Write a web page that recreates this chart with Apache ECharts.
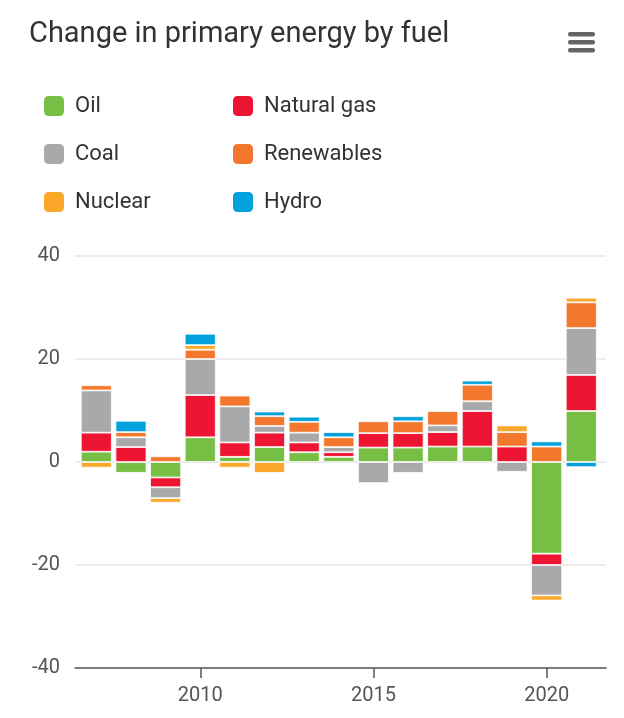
<!DOCTYPE html>
<html>
<head>
<meta charset="utf-8">
<script src="https://cdn.jsdelivr.net/npm/echarts@6/dist/echarts.min.js"></script>
<style>html,body{margin:0;padding:0;background:#fff;}#c{width:624px;height:718px;}</style>
</head>
<body>
<div id="c"></div>
<script>
const years = ['2007','2008','2009','2010','2011','2012','2013','2014','2015','2016','2017','2018','2019','2020','2021'];
const oil        = [2.0,-2.1,-3.0,4.8,1.0,2.9,1.9,1.0,2.8,2.8,3.0,3.0,0,-17.8,9.9];
const naturalGas = [3.7,2.9,-1.9,8.2,2.8,2.8,1.9,0.9,2.8,2.8,2.8,6.9,3.0,-2.2,7.0];
const coal       = [8.2,1.9,-2.1,7.0,7.0,1.3,1.9,1.0,-4.1,-2.1,1.3,1.9,-1.9,-5.9,9.1];
const renewables = [1.0,1.0,1.1,1.8,2.1,1.9,2.1,1.9,2.3,2.3,2.8,3.2,2.8,3.0,5.0];
const nuclear    = [-1.1,0,-0.9,0.9,-1.1,-2.1,0,0,0,0,0,0,1.3,-1.0,0.9];
const hydro      = [0,2.2,0,2.2,0,0.9,1.0,1.0,0,1.0,0,0.8,0,1.0,-1.0];
const yTicks = [-40,-20,0,20,40];
const xTickLabels = [2010,2015,2020];

const seriesDefs = [
  {name:'Oil', data:oil, color:'#77bf44'},
  {name:'Natural gas', data:naturalGas, color:'#ee1533'},
  {name:'Coal', data:coal, color:'#a9a9ab'},
  {name:'Renewables', data:renewables, color:'#f3772c'},
  {name:'Nuclear', data:nuclear, color:'#fba72a'},
  {name:'Hydro', data:hydro, color:'#00a1dc'}
];

const chart = echarts.init(document.getElementById('c'), null, {renderer:'canvas'});
const font = 'Roboto, "Noto Sans", sans-serif';
const gridTop = 256, gridBottom = 50;
const legendText = {fontFamily:font, fontSize:22, color:'#333', padding:[0,0,0,5]};
chart.setOption({
  animation:false,
  backgroundColor:'#fff',
  title:{
    text:'Change in primary energy by fuel',
    left:24, top:15,
    textStyle:{fontFamily:font, fontSize:29, fontWeight:'normal', color:'#333'}
  },
  legend:[
    {data:['Oil','Coal','Nuclear'], orient:'vertical', left:37, top:89, itemWidth:22, itemHeight:22, itemGap:24,
     icon:'roundRect', textStyle:legendText, selectedMode:false},
    {data:['Natural gas','Renewables','Hydro'], orient:'vertical', left:226, top:89, itemWidth:22, itemHeight:22, itemGap:24,
     icon:'roundRect', textStyle:legendText, selectedMode:false}
  ],
  graphic:[
    {type:'rect', shape:{x:568, y:32, width:27, height:4.5, r:2}, style:{fill:'#666'}},
    {type:'rect', shape:{x:568, y:40, width:27, height:4.5, r:2}, style:{fill:'#666'}},
    {type:'rect', shape:{x:568, y:48, width:27, height:4.5, r:2}, style:{fill:'#666'}}
  ],
  grid:[
    {left:75, right:18, top:gridTop, bottom:gridBottom},
    {left:79, right:25.4, top:gridTop, bottom:gridBottom}
  ],
  xAxis:[
    {
      gridIndex:0, type:'value', min:2006.385, max:2021.71,
      axisLine:{onZero:false, lineStyle:{color:'#555', width:1.5}},
      axisTick:{show:true, customValues:xTickLabels, length:10, lineStyle:{color:'#555', width:1.5}},
      axisLabel:{customValues:xTickLabels, formatter:v => String(v), fontFamily:font, fontSize:20, color:'#555', margin:18},
      splitLine:{show:false}
    },
    {
      gridIndex:1, type:'category', data:years, show:false
    }
  ],
  yAxis:[
    {
      gridIndex:0, type:'value', min:yTicks[0], max:yTicks[yTicks.length-1], interval:20,
      axisLine:{show:false}, axisTick:{show:false},
      axisLabel:{fontFamily:font, fontSize:20, color:'#555', margin:15},
      splitLine:{lineStyle:{color:'#e6e6e6', width:1.5}}
    },
    {
      gridIndex:1, type:'value', min:yTicks[0], max:yTicks[yTicks.length-1], interval:20, show:false,
      splitLine:{show:false}
    }
  ],
  series: seriesDefs.map(s => ({
    name:s.name, type:'bar', stack:'total', barWidth:31,
    xAxisIndex:1, yAxisIndex:1,
    itemStyle:{color:s.color, borderColor:'#fff', borderWidth:0.8},
    data: s.data.map(v => v === 0 ? '-' : v)
  }))
});
</script>
</body>
</html>
